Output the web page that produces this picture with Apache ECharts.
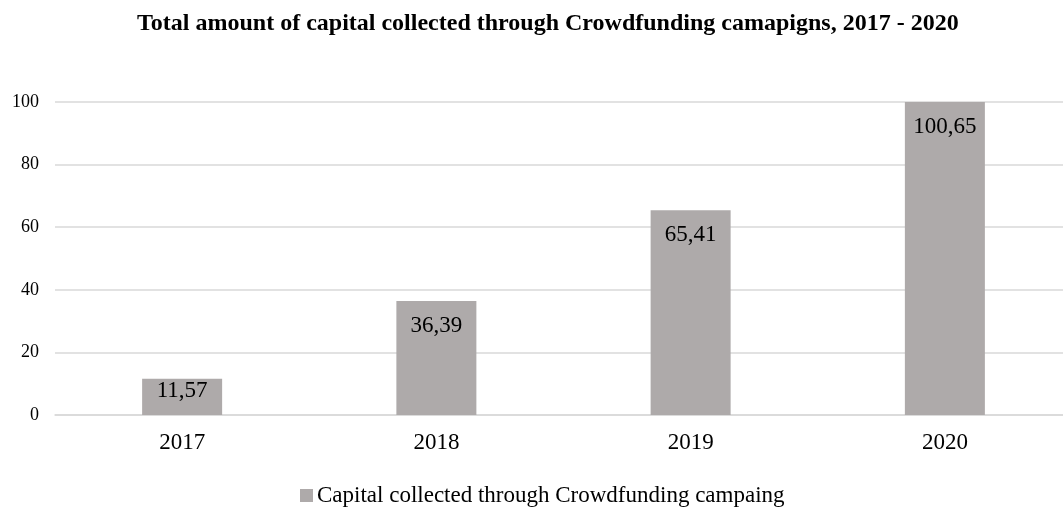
<!DOCTYPE html>
<html>
<head>
<meta charset="utf-8">
<script src="https://cdn.jsdelivr.net/npm/echarts@6/dist/echarts.min.js"></script>
<style>
  html, body { margin: 0; padding: 0; background: #fff; overflow: hidden; }
  /* plot area runs slightly past the right edge of the window */
  #chart { width: 1072px; height: 507px; }
</style>
</head>
<body>
<div id="chart"></div>
<script>
// Crowdfunding capital by year
const years = ['2017', '2018', '2019', '2020'];
const capital = [11.57, 36.39, 65.41, 100.65];
const seriesName = 'Capital collected through Crowdfunding campaing';
const chartTitle = 'Total amount of capital collected through Crowdfunding camapigns, 2017 - 2020';

const serif = '"Liberation Serif", "Times New Roman", serif';
const chart = echarts.init(document.getElementById('chart'));

// Short bars keep their value label tucked right under the bar top
const barData = capital.map(v => ({
  value: v,
  label: { distance: v < 20 ? 1 : 13 }
}));

chart.setOption({
  animation: false,
  backgroundColor: '#ffffff',
  title: {
    text: chartTitle,
    left: 137,
    top: 12,
    padding: 0,
    textStyle: { fontFamily: serif, fontSize: 24, fontWeight: 'bold', color: '#000' }
  },
  legend: {
    top: 484,
    left: 300,
    padding: 0,
    icon: 'rect',
    itemWidth: 13,
    itemHeight: 13,
    textStyle: { fontFamily: serif, fontSize: 23, color: '#000', padding: [0, 0, 0, -1] },
    data: [seriesName]
  },
  grid: { left: 55, top: 102, right: 0, bottom: 92, containLabel: false },
  xAxis: {
    type: 'category',
    data: years,
    axisLine: { show: true, lineStyle: { color: '#d9d9d9', width: 1.5 } },
    axisTick: { show: false },
    axisLabel: { margin: 16, fontFamily: serif, fontSize: 23, color: '#000' }
  },
  yAxis: {
    type: 'value',
    min: 0,
    max: 100,
    interval: 20,
    axisLine: { show: false },
    axisTick: { show: false },
    splitLine: { lineStyle: { color: '#d9d9d9', width: 1.5 } },
    axisLabel: { margin: 16, fontFamily: serif, fontSize: 18, color: '#000' }
  },
  series: [{
    name: seriesName,
    type: 'bar',
    data: barData,
    barWidth: 80,
    itemStyle: { color: '#aeaaaa' },
    label: {
      show: true,
      position: 'insideTop',
      fontFamily: serif,
      fontSize: 23,
      color: '#000',
      formatter: p => p.value.toFixed(2).replace('.', ',')
    }
  }]
});
</script>
</body>
</html>
